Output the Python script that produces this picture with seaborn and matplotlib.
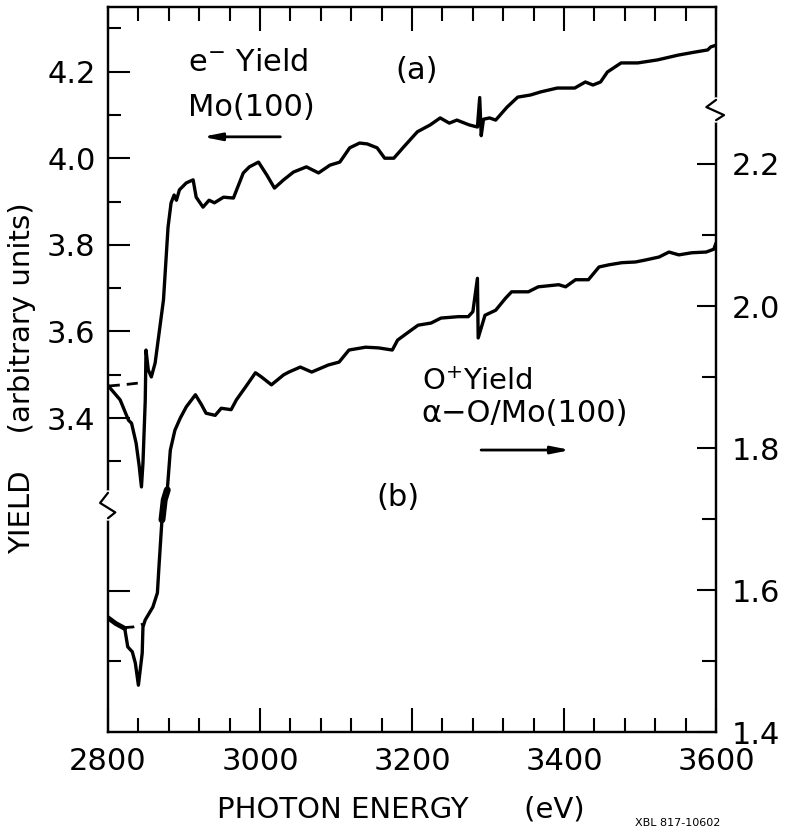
import numpy as np
import pandas as pd
import matplotlib
matplotlib.use("Agg")
import matplotlib.pyplot as plt
from matplotlib.ticker import FixedLocator, FixedFormatter, MultipleLocator
import seaborn as sns

# ---------------- data ----------------
# (a) electron yield, Mo(100)  -> left axis
a_energy = [2800, 2816, 2827, 2831, 2837, 2841, 2844, 2846, 2849, 2850, 2853, 2857, 2862,
            2873, 2879, 2883, 2887, 2890, 2894, 2903, 2912, 2916, 2925, 2933, 2940, 2952,
            2965, 2978, 2986, 2998, 3009, 3019, 3031, 3044, 3061, 3077, 3092, 3105, 3118,
            3131, 3141, 3154, 3164, 3176, 3189, 3207, 3224, 3237, 3249, 3259, 3275, 3286,
            3289, 3291, 3294, 3302, 3310, 3325, 3339, 3356, 3369, 3391, 3414, 3428, 3438,
            3448, 3457, 3475, 3497, 3523, 3550, 3572, 3589, 3593, 3600]
a_yield = [3.475, 3.442, 3.395, 3.388, 3.342, 3.290, 3.241, 3.296, 3.440, 3.557, 3.511, 3.495, 3.527,
           3.673, 3.841, 3.897, 3.915, 3.903, 3.927, 3.943, 3.950, 3.910, 3.887, 3.903, 3.897, 3.910,
           3.908, 3.966, 3.980, 3.991, 3.961, 3.931, 3.950, 3.968, 3.980, 3.966, 3.984, 3.991, 4.024,
           4.035, 4.033, 4.024, 4.000, 4.000, 4.026, 4.061, 4.077, 4.093, 4.081, 4.088, 4.077, 4.072,
           4.140, 4.052, 4.090, 4.093, 4.088, 4.118, 4.141, 4.146, 4.153, 4.162, 4.162, 4.176, 4.169,
           4.176, 4.199, 4.220, 4.220, 4.227, 4.238, 4.245, 4.250, 4.257, 4.261]
a_base_energy = [2801, 2826, 2851]
a_base_yield = [3.474, 3.478, 3.483]

# (b) O+ yield, alpha-O/Mo(100) -> right axis
b_energy = [2800, 2810, 2822, 2826, 2832, 2836, 2840, 2845, 2846, 2849, 2859, 2865, 2867,
            2871, 2874, 2878, 2879, 2882, 2888, 2895, 2903, 2915, 2923, 2929, 2941, 2949,
            2962, 2969, 2981, 2994, 3002, 3015, 3031, 3038, 3053, 3068, 3090, 3104, 3117,
            3139, 3156, 3174, 3181, 3195, 3208, 3225, 3238, 3261, 3274, 3280, 3286, 3287,
            3296, 3310, 3323, 3331, 3353, 3366, 3393, 3402, 3415, 3432, 3446, 3459, 3476,
            3494, 3508, 3525, 3538, 3551, 3568, 3587, 3597, 3600]
b_yield = [1.561, 1.553, 1.546, 1.520, 1.513, 1.497, 1.466, 1.511, 1.548, 1.558, 1.576, 1.596, 1.632,
           1.699, 1.727, 1.741, 1.755, 1.797, 1.825, 1.842, 1.858, 1.875, 1.861, 1.849, 1.846, 1.856,
           1.854, 1.868, 1.886, 1.906, 1.900, 1.889, 1.903, 1.907, 1.914, 1.907, 1.917, 1.921, 1.938,
           1.942, 1.941, 1.938, 1.952, 1.963, 1.973, 1.976, 1.983, 1.985, 1.985, 1.992, 2.039, 1.955,
           1.987, 1.994, 2.011, 2.020, 2.020, 2.027, 2.030, 2.027, 2.037, 2.037, 2.055, 2.058, 2.061,
           2.062, 2.065, 2.069, 2.076, 2.072, 2.075, 2.076, 2.080, 2.089]
b_base_energy = [2820, 2833, 2846]
b_base_yield = [1.547, 1.548, 1.552]

left_major = [3.0, 3.4, 3.6, 3.8, 4.0, 4.2]
left_major_labels = ["", "3.4", "3.6", "3.8", "4.0", "4.2"]
left_minor = [2.84, 3.3, 3.5, 3.7, 3.9, 4.1, 4.3]
right_major = [1.4, 1.6, 1.8, 2.0, 2.2]
right_major_labels = ["1.4", "1.6", "1.8", "2.0", "2.2"]
right_minor = [1.5, 1.7, 1.9, 2.1]
x_major = [2800, 3000, 3200, 3400, 3600]

# ---------------- style ----------------
sns.set_theme(style="ticks")
plt.rcParams["font.family"] = ["DejaVu Sans"]
plt.rcParams["text.color"] = "black"
plt.rcParams["axes.labelcolor"] = "black"
plt.rcParams["xtick.color"] = "black"
plt.rcParams["ytick.color"] = "black"
plt.rcParams["axes.linewidth"] = 1.6
plt.rcParams["axes.edgecolor"] = "black"
plt.rcParams["mathtext.default"] = "regular"

FS = 22
fig = plt.figure(figsize=(7.97, 8.30), dpi=100)
ax = fig.add_axes([0.1355, 0.118, 0.763, 0.8735])
ax2 = ax.twinx()

dfa = pd.DataFrame({"E": a_energy, "Y": a_yield})
dfb = pd.DataFrame({"E": b_energy, "Y": b_yield})
dfa0 = pd.DataFrame({"E": a_base_energy, "Y": a_base_yield})
dfb0 = pd.DataFrame({"E": b_base_energy, "Y": b_base_yield})

sns.lineplot(data=dfa, x="E", y="Y", ax=ax, color="black", lw=2.4, sort=False, estimator=None)
sns.lineplot(data=dfa0, x="E", y="Y", ax=ax, color="black", lw=2.0, sort=False,
             estimator=None, dashes=False, linestyle=(0, (4, 2.5)))
sns.lineplot(data=dfb, x="E", y="Y", ax=ax2, color="black", lw=2.4, sort=False, estimator=None)
sns.lineplot(data=dfb0, x="E", y="Y", ax=ax2, color="black", lw=2.0, sort=False,
             estimator=None, dashes=False, linestyle=(0, (4, 2.5)))
# thick pen marks on curve (b)
seg = dfb[(dfb.E >= 2871) & (dfb.E <= 2878)]
sns.lineplot(data=seg, x="E", y="Y", ax=ax2, color="black", lw=5, sort=False, estimator=None)
seg0 = dfb[(dfb.E <= 2822)]
sns.lineplot(data=seg0, x="E", y="Y", ax=ax2, color="black", lw=3.5, sort=False, estimator=None)

ax.set_xlim(2800, 3600)
ax.set_ylim(2.675, 4.349)
ax2.set_ylim(1.4, 2.421)

ax.xaxis.set_major_locator(FixedLocator(x_major))
ax.xaxis.set_minor_locator(MultipleLocator(40))
ax.yaxis.set_major_locator(FixedLocator(left_major))
ax.yaxis.set_major_formatter(FixedFormatter(left_major_labels))
ax.yaxis.set_minor_locator(FixedLocator(left_minor))
ax2.yaxis.set_major_locator(FixedLocator(right_major))
ax2.yaxis.set_major_formatter(FixedFormatter(right_major_labels))
ax2.yaxis.set_minor_locator(FixedLocator(right_minor))

ax.tick_params(axis="x", which="major", direction="in", length=17, width=1.5,
               top=True, bottom=True, labelsize=FS, pad=11)
ax.tick_params(axis="x", which="minor", direction="in", length=10, width=1.5, top=True, bottom=True)
ax.tick_params(axis="y", which="major", direction="in", length=16, width=1.5,
               left=True, right=False, labelsize=FS, pad=9)
ax.tick_params(axis="y", which="minor", direction="in", length=9.5, width=1.5, left=True, right=False)
ax2.tick_params(axis="y", which="major", direction="in", length=14, width=1.5,
                right=True, left=False, labelsize=FS, pad=11)
ax2.tick_params(axis="y", which="minor", direction="in", length=10, width=1.5, right=True, left=False)

ax.set_xlabel("PHOTON ENERGY      (eV)", fontsize=21)
ax.xaxis.set_label_coords(0.482, -0.088)
ax.set_ylabel("YIELD    (arbitrary units)", fontsize=21)
ax.yaxis.set_label_coords(-0.118, 0.488)
ax2.set_ylabel("")

for a in (ax, ax2):
    for s in a.spines.values():
        s.set_linewidth(1.6)
        s.set_color("black")

# axis breaks
T = ax2.transAxes
ax2.plot([0, 0], [0.295, 0.330], color="white", lw=4, transform=T, clip_on=False, zorder=10)
ax2.plot([0, -0.013, 0.012, 0], [0.330, 0.316, 0.303, 0.295], color="black", lw=1.6,
         transform=T, clip_on=False, zorder=11)
ax2.plot([1, 1], [0.844, 0.872], color="white", lw=4, transform=T, clip_on=False, zorder=10)
ax2.plot([1, 0.984, 1.013, 1], [0.872, 0.862, 0.851, 0.844], color="black", lw=1.6,
         transform=T, clip_on=False, zorder=11)

# annotations
ax2.text(0.132, 0.923, r"e$^{-}$ Yield", transform=T, fontsize=FS, ha="left", va="center")
ax2.text(0.132, 0.862, "Mo(100)", transform=T, fontsize=FS, ha="left", va="center")
ax2.annotate("", xy=(0.151, 0.821), xytext=(0.288, 0.821), xycoords=T, textcoords=T,
             arrowprops=dict(arrowstyle="-|>,head_length=0.9,head_width=0.18", lw=2, color="black"))
ax2.text(0.507, 0.913, "(a)", transform=T, fontsize=FS, ha="center", va="center")
ax2.text(0.516, 0.483, r"O$^{+}$Yield", transform=T, fontsize=21, ha="left", va="center")
ax2.text(0.516, 0.44, "α−O/Mo(100)", transform=T, fontsize=FS, ha="left", va="center")
ax2.annotate("", xy=(0.765, 0.389), xytext=(0.609, 0.389), xycoords=T, textcoords=T,
             arrowprops=dict(arrowstyle="-|>,head_length=0.9,head_width=0.18", lw=2, color="black"))
ax2.text(0.477, 0.324, "(b)", transform=T, fontsize=FS, ha="center", va="center")

fig.text(635 / 797, 2 / 830, "XBL 817-10602", fontsize=8, va="bottom", ha="left")

fig.savefig("out.png", dpi=100)
